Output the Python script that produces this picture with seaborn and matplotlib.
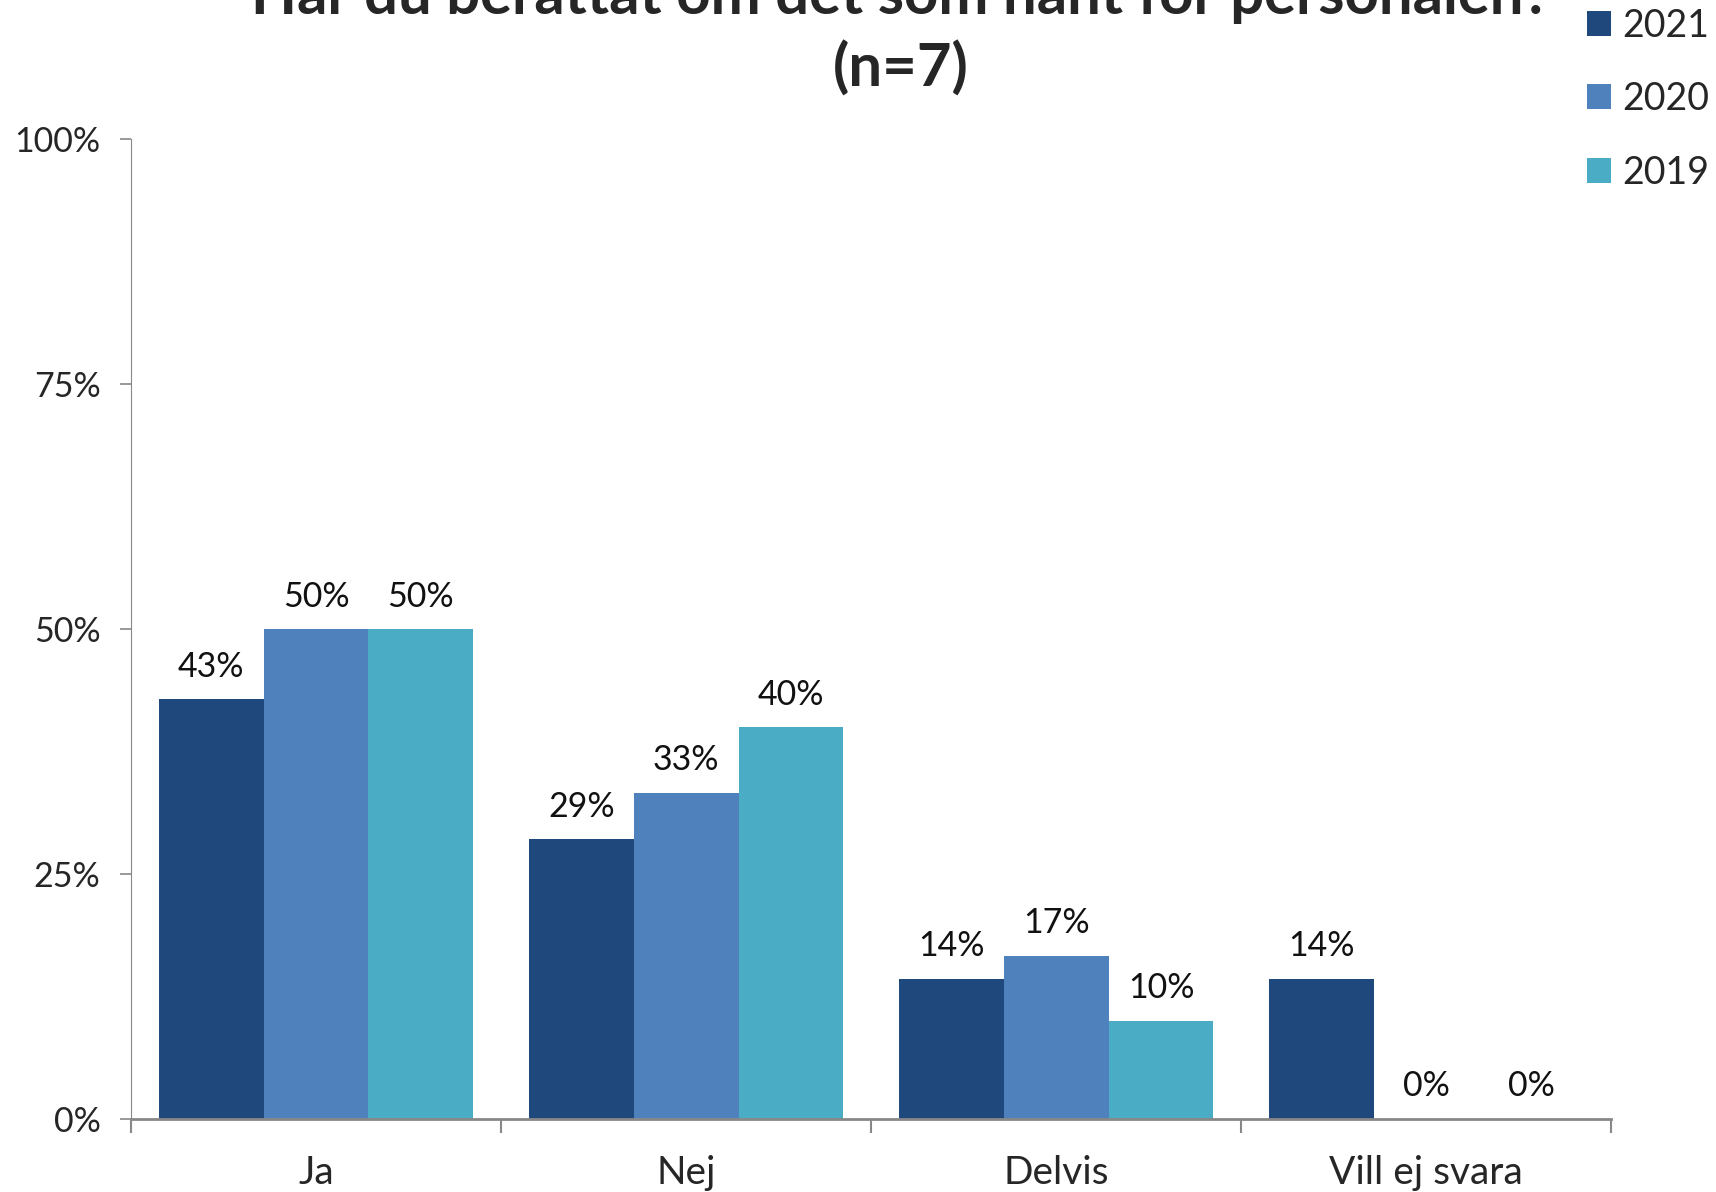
import pandas as pd
import numpy as np
import matplotlib.pyplot as plt
import seaborn as sns

categories = ['Ja', 'Nej', 'Delvis', 'Vill ej svara']
years = ['2021', '2020', '2019']
v2021 = [42.86, 28.57, 14.29, 14.29]
v2020 = [50.0, 33.33, 16.67, 0.0]
v2019 = [50.0, 40.0, 10.0, 0.0]
colors = ['#1F497D', '#4F81BD', '#4BACC6']

df = pd.DataFrame({
    'svar': categories * 3,
    'year': ['2021'] * 4 + ['2020'] * 4 + ['2019'] * 4,
    'value': v2021 + v2020 + v2019,
})

sns.set_style('white')
plt.rcParams['font.family'] = ['Lato', 'DejaVu Sans']

fig = plt.figure(figsize=(17.16, 11.92), dpi=100)
ax = fig.add_axes([0.0763, 0.0612, 0.8627, 0.8218])

sns.barplot(data=df, x='svar', y='value', hue='year', hue_order=years,
            palette=colors, width=0.85, saturation=1, ax=ax, legend=True,
            linewidth=0, edgecolor='none')

for cont in ax.containers:
    for bar in cont:
        h = bar.get_height()
        ax.annotate(f'{h:.0f}%', (bar.get_x() + bar.get_width() / 2, h),
                    xytext=(0, 12), textcoords='offset points',
                    ha='center', va='bottom', fontsize=24.5, color='#111111')

ax.set_xlim(-0.5, 3.5)
ax.set_ylim(0, 100)
ax.set_yticks([0, 25, 50, 75, 100])
ax.set_yticklabels(['0%', '25%', '50%', '75%', '100%'], fontsize=24.5)
ax.set_xticks(range(4))
ax.set_xticklabels(categories, fontsize=28)
ax.set_xticks(np.arange(-0.5, 4, 1), minor=True)
ax.tick_params(axis='x', which='major', bottom=False, length=0, pad=26)
ax.tick_params(axis='x', which='minor', bottom=True, length=10, color='#888888', width=1.5, direction='out')
ax.tick_params(axis='y', left=True, length=8, color='#888888', width=1.2, direction='out', pad=14)
ax.set_xlabel('')
ax.set_ylabel('')
sns.despine(ax=ax)
ax.spines['left'].set_color('#888888')
ax.spines['bottom'].set_color('#888888')
ax.spines['bottom'].set_linewidth(2)

leg = ax.legend(loc='upper left', bbox_to_anchor=(0.905, 1.022), bbox_transform=fig.transFigure,
                frameon=False, fontsize=27, handlelength=0.65, handleheight=0.65,
                handletextpad=0.3, labelspacing=1.0)

fig.text(0.525, 0.988, 'Har du berättat om det som hänt för personalen?', ha='center',
         va='baseline', fontsize=43, fontweight='bold')
fig.text(0.525, 0.927, '(n=7)', ha='center', va='baseline', fontsize=43, fontweight='bold')

fig.savefig('out.png', dpi=100)
